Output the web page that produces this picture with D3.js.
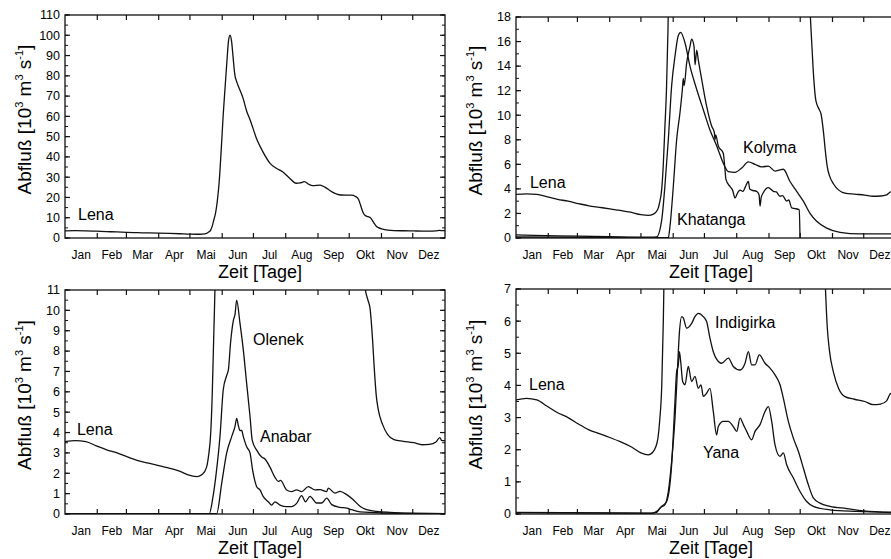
<!DOCTYPE html>
<html>
<head>
<meta charset="utf-8">
<script src="https://cdn.jsdelivr.net/npm/d3@7"></script>
<style>
  body { margin: 0; background: #fff; }
  svg { display: block; font-family: "Liberation Sans", Arial, sans-serif; }
</style>
</head>
<body>
<svg width="891" height="559"></svg>
<script>
// month boundaries (day of year) and names
var monthStarts = [0, 31, 59, 90, 120, 151, 181, 212, 243, 273, 304, 334, 365];
var monthNames = ["Jan", "Feb", "Mar", "Apr", "Mai", "Jun", "Jul", "Aug", "Sep", "Okt", "Nov", "Dez"];

// discharge [10^3 m^3/s] as [day, value]
var lenaFlow = [[0,3.55],[10,3.6],[20,3.55],[30,3.35],[40,3.15],[50,3.0],[60,2.8],[70,2.62],[80,2.5],[90,2.38],
  [100,2.25],[110,2.1],[120,1.9],[127,1.84],[132,1.95],[136,2.3],[138,2.9],[140,4.0],[141.5,6.0],[143,9.0],
  [144.5,12],[146,17],[148,27],[150,43],[152,61],[154,76],[155.5,87],[157,97],[158.5,100],[160,97],[161.5,89],
  [163,81],[165,77],[168,73],[171,69],[174.5,62.5],[178,58],[184,49],[190,42.6],[197,36.8],[203,34.4],
  [209,32.7],[216,29.4],[222,27],[226,27.2],[230,27.8],[234,26.5],[238,25.8],[245,26.1],[250,25],[256,22.9],
  [265,21.2],[275,21.1],[279,20.5],[282,19],[284,16],[286,13],[288,11.2],[291,10.5],[293,10.1],[295.5,8.5],
  [297,7.2],[299,5.8],[301,5.1],[305,4.4],[310,3.9],[316,3.65],[325,3.57],[335,3.5],[343,3.4],[350,3.42],
  [356,3.52],[360,3.75],[362,3.6],[365,3.6]];

var kolymaFlow = [[0,0.25],[40,0.18],[90,0.1],[130,0.06],[135,0.08],[140,1.5],[143,4.2],[146.3,8],[149.5,12.4],
  [152.7,14.8],[155.9,16.5],[158.2,16.75],[162.3,15.9],[167.1,14],[173.6,12.1],[179.9,10.45],[186.3,8.8],
  [192.8,7.5],[199.1,6.1],[204,5.4],[210.4,5.35],[216.8,5.7],[223.2,6.2],[229.6,6.0],[236,5.8],[242.4,5.85],
  [248.8,5.45],[253.6,5.55],[256.8,5.6],[263.2,4.6],[269.6,3.8],[276,3.0],[282.4,2.0],[288.8,1.36],
  [298.4,0.8],[311.2,0.46],[330.4,0.33],[365,0.33]];

var khatangaFlow = [[0,0.08],[100,0.04],[146.3,0.02],[147.9,0.95],[151.1,4.2],[154.3,8.0],[157.5,10.2],
  [159.8,12.1],[160.7,13],[161.5,12.4],[163.9,14.25],[167.1,15.6],[168.7,16.2],[171,15.6],[172,14.1],
  [173.6,15.3],[175.1,14.5],[178.4,12.9],[183.2,10.7],[188,9.1],[190.5,8.6],[191.1,8.0],[191.8,8.4],
  [194.3,7.5],[199.1,6.9],[200.5,5.8],[201.7,4.75],[205.5,4.2],[208,3.9],[210.4,3.26],[213,3.7],[215.2,3.9],
  [218,3.8],[220,4.1],[223.2,4.6],[224.5,4.0],[226.4,3.9],[231.2,3.8],[233.5,3.5],[234.4,2.6],[235.5,3.3],
  [237.6,3.7],[242.4,4.1],[247.2,3.8],[250,3.75],[253.6,3.4],[256,3.45],[260,3.0],[262,3.1],[264.8,2.45],
  [268,2.4],[272.1,2.3],[272.8,0]];

var olenekFlow = [[0,0.02],[138.6,0.02],[142,0.8],[145,1.9],[149,3.9],[152,6.1],[155.3,6.8],[157,7.1],
  [159,8.4],[161.7,9.5],[163.3,9.8],[164.9,10.5],[168,9.4],[171.3,8.05],[174.5,6.4],[177.7,4.8],[179.9,3.6],
  [184.1,3.14],[188.9,2.8],[192.1,2.7],[196.9,2.3],[201.7,1.8],[204.9,1.6],[207,1.65],[212.9,1.18],
  [217.7,1.1],[222.5,1.18],[227.3,1.1],[233.7,1.34],[240.1,1.18],[245,1.2],[251.3,1.1],[252.9,1.27],
  [259.3,1.03],[264.1,1.11],[270.6,0.95],[276.9,0.7],[283.3,0.38],[289.8,0.21],[299.4,0.13],[312.2,0.08],
  [337.8,0.03],[365,0.02]];

var anabarFlow = [[0,0.02],[145.7,0.02],[150.5,1.5],[155.3,3.0],[160.1,3.8],[163.3,4.3],[164.9,4.7],
  [166.5,4.35],[168.1,4.1],[169.7,4.1],[171.3,3.8],[174.5,3.3],[177.7,3.0],[180.2,2.16],[182.5,1.6],
  [184.1,1.34],[187.3,1.18],[190.5,0.85],[195.3,0.6],[198.5,0.44],[201.7,0.6],[206.5,0.44],[212.9,0.36],
  [217.7,0.36],[222.5,0.52],[227.3,0.9],[231,0.6],[235.3,0.87],[241.7,0.54],[246.6,0.54],[251.4,0.78],
  [256.2,0.46],[264.1,0.33],[270.6,0.29],[275.4,0.21],[283.3,0.1],[305.7,0.05],[365,0.02]];

var indigirkaFlow = [[0,0.05],[130,0.03],[135.1,0.05],[138.3,0.19],[143.1,0.29],[146.3,0.7],[149.5,1.64],
  [152.7,2.98],[155,4.43],[156.9,5.62],[159.2,6.14],[160.7,6.1],[163.9,5.78],[168.7,5.93],[171.9,6.14],
  [175.1,6.24],[179.9,6.14],[183.1,5.99],[186.3,5.47],[189.5,5.05],[192.1,4.85],[197.6,4.69],[204,4.85],
  [208.7,4.59],[215.2,4.48],[220,4.69],[223.2,5.05],[226.4,4.64],[229.6,4.64],[233.7,4.95],[239.2,4.69],
  [244,4.54],[248.8,4.33],[253.6,4.02],[256.8,3.6],[261.6,2.88],[266.4,2.36],[271.2,1.95],[276,1.43],
  [280.8,0.91],[285.6,0.5],[292,0.34],[301.6,0.24],[317.6,0.17],[333.6,0.1],[365,0.05]];

var yanaFlow = [[0,0.04],[130,0.02],[136,0.1],[140,0.24],[144.7,0.39],[149.5,1.53],[152.7,3.5],[154.3,4.43],
  [155.9,4.64],[156.9,5.05],[158.2,4.74],[160.1,4.12],[162.3,4.02],[165.5,4.59],[168.7,4.12],[171.9,4.28],
  [175.1,3.91],[177.7,4.02],[179.9,3.66],[183.1,3.76],[186.3,3.91],[189.5,3.19],[192.7,2.46],[194.3,2.72],
  [199.1,2.88],[203.9,2.88],[208.7,2.72],[212,2.57],[215.2,2.98],[218.4,2.78],[221.6,2.57],[226.4,2.31],
  [229.6,2.57],[234.4,2.78],[239.2,3.19],[242.4,3.34],[245.6,2.88],[248.8,2.15],[253.6,1.79],[256.8,1.9],
  [260,1.53],[266.4,1.12],[272.8,0.7],[279.2,0.39],[285.6,0.24],[301.6,0.13],[327.2,0.08],[365,0.04]];

// y axis extents and tick steps per panel
var yMaxes = [110, 18, 11, 7];
var yLabelSteps = [10, 2, 1, 1];
var yMinorSteps = [5, 1, 0.5, 0.5];

var svg = d3.select("svg");

var panels = [
  { left: 65, top: 15, bottom: 238, series: [lenaFlow],
    labels: [["Lena", 12.5, 8.9]] },
  { left: 516, top: 17, bottom: 238, series: [lenaFlow, kolymaFlow, khatangaFlow],
    labels: [["Lena", 13.4, 4.07], ["Kolyma", 218, 6.9], ["Khatanga", 154.6, 1.06]] },
  { left: 65, top: 290, bottom: 514, series: [lenaFlow, olenekFlow, anabarFlow],
    labels: [["Lena", 11.5, 3.88], ["Olenek", 180.6, 8.3], ["Anabar", 187.3, 3.54]] },
  { left: 516, top: 289, bottom: 514, series: [lenaFlow, indigirkaFlow, yanaFlow],
    labels: [["Lena", 12.5, 3.86], ["Indigirka", 191.1, 5.8], ["Yana", 179.6, 1.75]] }
];

panels.forEach(function(p, i) {
  var width = 380;
  var x = d3.scaleLinear().domain([0, 365]).range([p.left, p.left + width]);
  var y = d3.scaleLinear().domain([0, yMaxes[i]]).range([p.bottom, p.top]);
  var g = svg.append("g");

  g.append("clipPath").attr("id", "clip" + i)
    .append("rect")
    .attr("x", p.left).attr("y", p.top)
    .attr("width", width).attr("height", p.bottom - p.top);

  var line = d3.line()
    .x(function(d) { return x(d[0]); })
    .y(function(d) { return y(d[1]); })
    .curve(d3.curveMonotoneX);

  g.append("g").attr("clip-path", "url(#clip" + i + ")")
    .selectAll("path")
    .data(p.series)
    .enter().append("path")
    .attr("d", line)
    .attr("fill", "none")
    .attr("stroke", "#111")
    .attr("stroke-width", 1.3)
    .attr("stroke-linejoin", "round");

  // y ticks, inward on both sides
  var majors = d3.range(0, yMaxes[i] + 0.001, yLabelSteps[i]);
  var minors = d3.range(0, yMaxes[i] + 0.001, yMinorSteps[i]);
  [[p.left, 1], [p.left + width, -1]].forEach(function(side) {
    g.selectAll(null).data(minors).enter().append("line")
      .attr("x1", side[0]).attr("x2", side[0] + side[1] * 3)
      .attr("y1", function(d) { return y(d); })
      .attr("y2", function(d) { return y(d); })
      .attr("stroke", "#111").attr("stroke-width", 1);
    g.selectAll(null).data(majors).enter().append("line")
      .attr("x1", side[0]).attr("x2", side[0] + side[1] * 5)
      .attr("y1", function(d) { return y(d); })
      .attr("y2", function(d) { return y(d); })
      .attr("stroke", "#111").attr("stroke-width", 1.2);
  });

  g.selectAll(null).data(majors).enter().append("text")
    .attr("x", p.left - 5)
    .attr("y", function(d) { return y(d); })
    .attr("dy", "0.35em")
    .attr("text-anchor", "end")
    .attr("font-size", 12.5)
    .text(function(d) { return d; });

  // month ticks on top and bottom
  var inner = monthStarts.slice(1, 12);
  [[p.top, 1], [p.bottom, -1]].forEach(function(side) {
    g.selectAll(null).data(inner).enter().append("line")
      .attr("x1", function(d) { return x(d); })
      .attr("x2", function(d) { return x(d); })
      .attr("y1", side[0]).attr("y2", side[0] + side[1] * 5)
      .attr("stroke", "#111").attr("stroke-width", 1.2);
  });

  g.selectAll(null).data(monthNames).enter().append("text")
    .attr("x", function(d, k) { return x((monthStarts[k] + monthStarts[k + 1]) / 2); })
    .attr("y", p.bottom + 21)
    .attr("text-anchor", "middle")
    .attr("font-size", 12)
    .text(function(d) { return d; });

  g.append("rect")
    .attr("x", p.left).attr("y", p.top)
    .attr("width", width).attr("height", p.bottom - p.top)
    .attr("fill", "none").attr("stroke", "#111").attr("stroke-width", 1.3);

  g.append("text")
    .attr("x", p.left + width / 2 + 5)
    .attr("y", p.bottom + 40)
    .attr("text-anchor", "middle")
    .attr("font-size", 18)
    .text("Zeit [Tage]");

  var yl = g.append("text")
    .attr("transform", "translate(" + (p.left - 34) + "," + ((p.top + p.bottom) / 2 - 7) + ") rotate(-90)")
    .attr("text-anchor", "middle")
    .attr("font-size", 19);
  yl.append("tspan").text("Abfluß [10");
  yl.append("tspan").attr("font-size", 11).attr("dy", -8).text("3");
  yl.append("tspan").attr("dy", 8).text(" m");
  yl.append("tspan").attr("font-size", 11).attr("dy", -8).text("3");
  yl.append("tspan").attr("dy", 8).text(" s");
  yl.append("tspan").attr("font-size", 11).attr("dy", -8).text("-1");
  yl.append("tspan").attr("dy", 8).text("]");

  g.selectAll(null).data(p.labels).enter().append("text")
    .attr("x", function(d) { return x(d[1]); })
    .attr("y", function(d) { return y(d[2]); })
    .attr("font-size", 16)
    .text(function(d) { return d[0]; });
});
</script>
</body>
</html>
